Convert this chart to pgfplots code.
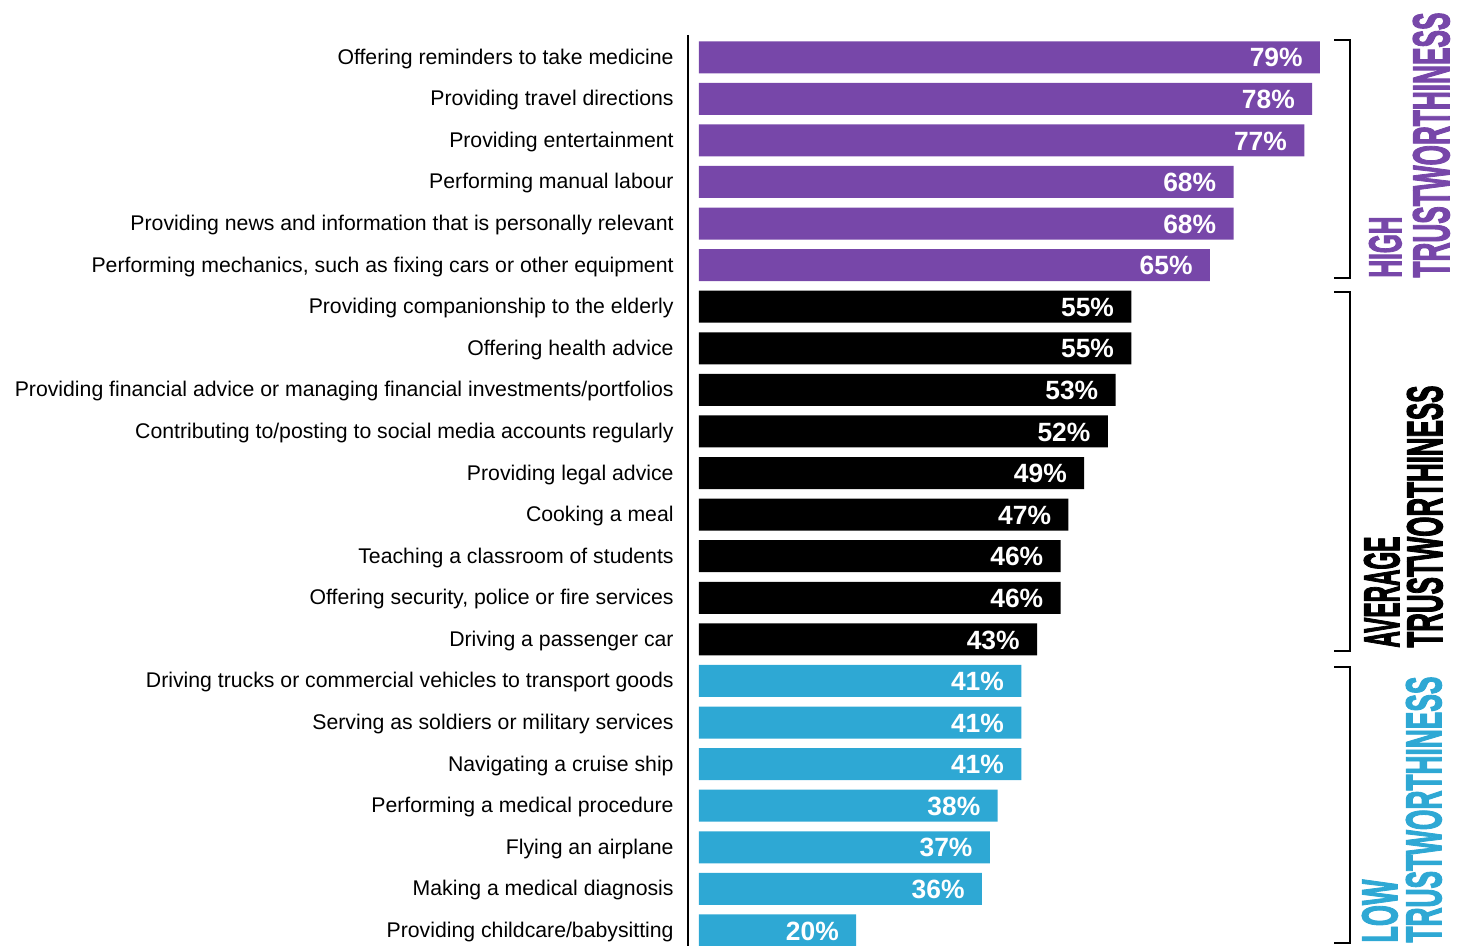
\documentclass[border=0pt]{standalone}
\usepackage{fontspec}
\setmainfont{Liberation Sans}
\newfontfamily\heavyfont[FakeBold=3]{Liberation Sans Bold}
\usepackage{graphicx}
\usepackage{pgfplots}
\pgfplotsset{compat=1.18}
\definecolor{hiP}{HTML}{7747A9}
\definecolor{loB}{HTML}{2EA8D4}
\begin{document}
\begin{tikzpicture}
\begin{axis}[
  at={(0pt,0pt)}, anchor=south west,
  scale only axis, width=316pt, height=455.5pt,
  xmin=-1.4, xmax=79, ymin=-0.54, ymax=21.37, y dir=reverse,
  axis x line=none, axis y line*=left,
  y axis line style={line width=1pt, black},
  ytick={0,...,21},
  yticklabels={
    Offering reminders to take medicine,
    Providing travel directions,
    Providing entertainment,
    Performing manual labour,
    Providing news and information that is personally relevant,
    {Performing mechanics, such as fixing cars or other equipment},
    Providing companionship to the elderly,
    Offering health advice,
    Providing financial advice or managing financial investments/portfolios,
    Contributing to/posting to social media accounts regularly,
    Providing legal advice,
    Cooking a meal,
    Teaching a classroom of students,
    {Offering security, police or fire services},
    Driving a passenger car,
    Driving trucks or commercial vehicles to transport goods,
    Serving as soldiers or military services,
    Navigating a cruise ship,
    Performing a medical procedure,
    Flying an airplane,
    Making a medical diagnosis,
    Providing childcare/babysitting},
  major tick length=0pt,
  yticklabel style={anchor=east, inner sep=0pt, xshift=-7pt, yshift=-0.8pt,
    font=\fontsize{10.62}{12}\selectfont, text height=7.6pt, text depth=2.2pt},
  clip=false,
  xbar, bar width=16pt,
  point meta=x,
  nodes near coords={\pgfmathprintnumber[assume math mode=true]{\pgfplotspointmeta}\%},
  every node near coord/.append style={anchor=east, inner sep=0pt, xshift=-8.5pt, yshift=-0.3pt,
    text=white, font=\bfseries\fontsize{13.2}{14}\selectfont},
]
\addplot[fill=hiP, draw=none, bar shift=0pt] coordinates {(79,0) (78,1) (77,2) (68,3) (68,4) (65,5)};
\addplot[fill=black, draw=none, bar shift=0pt] coordinates {(55,6) (55,7) (53,8) (52,9) (49,10) (47,11) (46,12) (46,13) (43,14)};
\addplot[fill=loB, draw=none, bar shift=0pt] coordinates {(41,15) (41,16) (41,17) (38,18) (37,19) (36,20) (20,21)};
\end{axis}
\begin{scope}[shift={(-344pt,472.9pt)}, x=0.5pt, y=-0.5pt]
  \draw[line width=1.2pt] (1334,40) -- (1350,40) -- (1350,278) -- (1334,278);
  \draw[line width=1.2pt] (1334,292) -- (1350,292) -- (1350,651) -- (1334,651);
  \draw[line width=1.2pt] (1334,667) -- (1350,667) -- (1350,943) -- (1334,943);
  \node[rotate=90, anchor=south west, inner sep=0pt, text=hiP] at (1402,278) {\resizebox{30.5pt}{16pt}{\heavyfont HIGH}};
  \node[rotate=90, anchor=south west, inner sep=0pt, text=hiP] at (1450,278) {\resizebox{132.5pt}{18pt}{\heavyfont TRUSTWORTHINESS}};
  \node[rotate=90, anchor=south west, inner sep=0pt, text=black] at (1400,648) {\resizebox{55.5pt}{17.5pt}{\heavyfont AVERAGE}};
  \node[rotate=90, anchor=south west, inner sep=0pt, text=black] at (1443,648) {\resizebox{131pt}{17.5pt}{\heavyfont TRUSTWORTHINESS}};
  \node[rotate=90, anchor=south west, inner sep=0pt, text=loB] at (1398,943) {\resizebox{31.5pt}{17.5pt}{\heavyfont LOW}};
  \node[rotate=90, anchor=south west, inner sep=0pt, text=loB] at (1442,943) {\resizebox{133pt}{17.5pt}{\heavyfont TRUSTWORTHINESS}};
\end{scope}
\pgfresetboundingbox
\path[use as bounding box] (-344pt,-0.1pt) rectangle (387.5pt,472.9pt);
\end{tikzpicture}
\end{document}
